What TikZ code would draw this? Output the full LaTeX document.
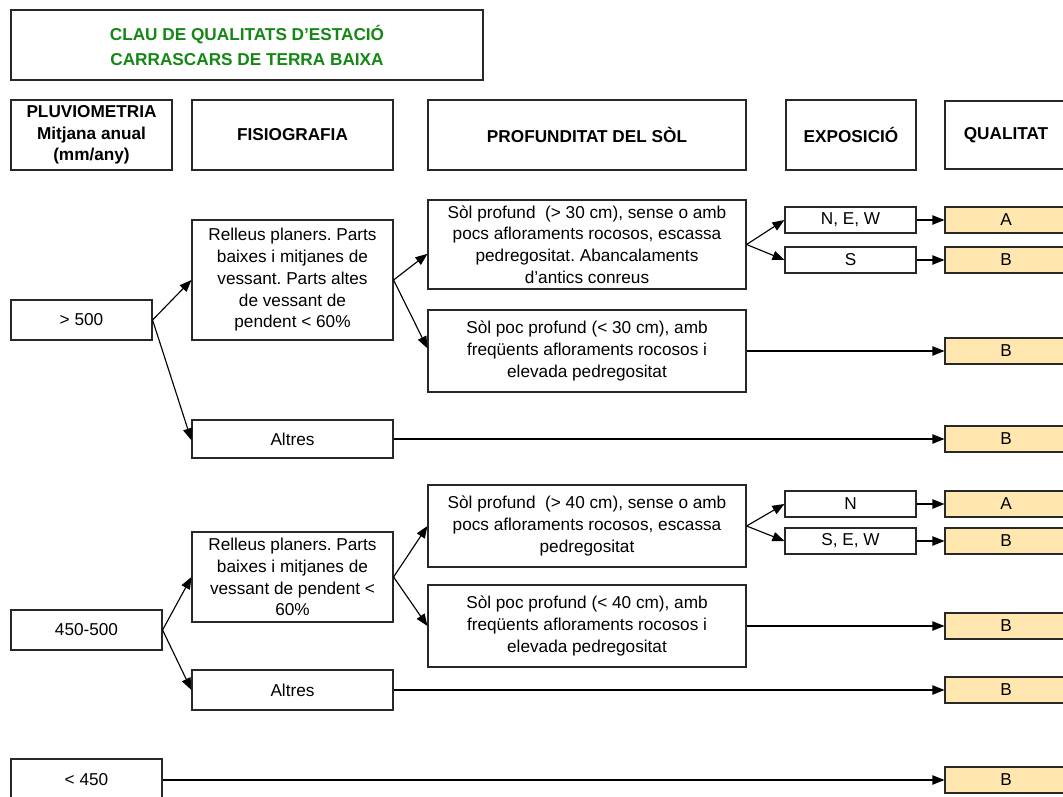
\documentclass[tikz,border=0pt]{standalone}
\usepackage{fontspec}
\setmainfont{Liberation Sans}
\usetikzlibrary{arrows.meta}
\definecolor{titlegreen}{RGB}{20,135,20}
\definecolor{qfill}{RGB}{255,231,175}
\definecolor{bord}{RGB}{40,40,40}
\frenchspacing
\begin{document}
\begin{tikzpicture}[x=0.75pt,y=-0.75pt,
  box/.style={draw=bord, line width=0.85pt, inner sep=0pt, align=center, fill=white,
    font=\fontsize{12.9}{16.3}\selectfont},
  hbox/.style={box, font=\fontsize{12.9}{16}\selectfont\bfseries},
  qbox/.style={box, fill=qfill},
  wh/.style 2 args={minimum width=#1*0.75pt, minimum height=#2*0.75pt},
  arr/.style={-{Triangle[length=9pt,width=7pt]}, line width=0.85pt, black}
  ]
\useasboundingbox (0,0) rectangle (1063,796);
\clip (0,0) rectangle (1063,796);

% title
\node[box, wh={472}{70}, font=\fontsize{12.9}{18.7}\selectfont\bfseries, text=titlegreen] (title) at (247,45)
  {CLAU DE QUALITATS D’ESTACIÓ\\CARRASCARS DE TERRA BAIXA};

% headers
\node[hbox, wh={161}{70}] (h1) at (91.5,135) {PLUVIOMETRIA\\Mitjana anual\\(mm/any)};
\node[hbox, wh={201}{70}] (h2) at (292.5,135) {FISIOGRAFIA};
\node[hbox, wh={318}{70}] (h3) at (587,135) {PROFUNDITAT DEL SÒL};
\node[hbox, wh={130}{70}] (h4) at (851,135) {EXPOSICIÓ};
\node[hbox, wh={122}{68}] (h5) at (1006,135) {QUALITAT};

% row 1
\node[box, wh={141}{40}] (p1) at (81.5,320) {> 500};
\node[box, wh={201}{120}] (f1) at (292.5,280) {Relleus planers. Parts\\baixes i mitjanes de\\vessant. Parts altes\\de vessant de\\pendent < 60\%};
\node[box, wh={201}{38}] (f2) at (292.5,439) {Altres};
\node[box, wh={318}{89}] (s1) at (587,244.5) {Sòl profund\ \ (> 30 cm), sense o amb\\pocs afloraments rocosos, escassa\\pedregositat. Abancalaments\\d’antics conreus};
\node[box, wh={318}{82}] (s2) at (587,351) {Sòl poc profund (< 30 cm), amb\\freqüents afloraments rocosos i\\elevada pedregositat};
\node[box, wh={131}{26}] (e1) at (850.5,220) {N, E, W};
\node[box, wh={131}{26}] (e2) at (850.5,260) {S};
\node[qbox, wh={122}{26}] (q1) at (1006,220) {A};
\node[qbox, wh={122}{26}] (q2) at (1006,260) {B};
\node[qbox, wh={122}{26}] (q3) at (1006,351) {B};
\node[qbox, wh={122}{26}] (q4) at (1006,439) {B};

% row 2
\node[box, wh={151}{40}] (p2) at (86.5,630) {450-500};
\node[box, wh={201}{90}] (f3) at (292.5,577) {Relleus planers. Parts\\baixes i mitjanes de\\vessant de pendent <\\60\%};
\node[box, wh={201}{40}] (f4) at (292.5,690) {Altres};
\node[box, wh={318}{82}] (s3) at (587,526) {Sòl profund\ \ (> 40 cm), sense o amb\\pocs afloraments rocosos, escassa\\pedregositat};
\node[box, wh={318}{82}] (s4) at (587,626) {Sòl poc profund (< 40 cm), amb\\freqüents afloraments rocosos i\\elevada pedregositat};
\node[box, wh={131}{26}] (e3) at (850.5,504) {N};
\node[box, wh={131}{26}] (e4) at (850.5,541) {S, E, W};
\node[qbox, wh={122}{26}] (q5) at (1006,504) {A};
\node[qbox, wh={122}{26}] (q6) at (1006,541) {B};
\node[qbox, wh={122}{26}] (q7) at (1006,626) {B};
\node[qbox, wh={122}{26}] (q8) at (1006,690) {B};

% row 3
\node[box, wh={151}{42}] (p3) at (86.5,780) {< 450};
\node[qbox, wh={122}{26}] (q9) at (1006,780) {B};

% connectors row 1
\draw[arr] (p1.east) -- (f1.west);
\draw[arr] (p1.east) -- ([yshift=-1pt]f2.west);
\draw[arr] (f1.east) -- ([yshift=-7pt]s1.west);
\draw[arr] (f1.east) -- ([yshift=2pt]s2.west);
\draw[arr] (s1.east) -- (e1.west);
\draw[arr] (s1.east) -- (e2.west);
\draw[arr] (e1.east) -- (q1.west);
\draw[arr] (e2.east) -- (q2.west);
\draw[arr] (s2.east) -- (q3.west);
\draw[arr] (f2.east) -- (q4.west);

% connectors row 2
\draw[arr] (p2.east) -- (f3.west);
\draw[arr] (p2.east) -- (f4.west);
\draw[arr] (f3.east) -- (s3.west);
\draw[arr] (f3.east) -- (s4.west);
\draw[arr] (s3.east) -- (e3.west);
\draw[arr] (s3.east) -- (e4.west);
\draw[arr] (e3.east) -- (q5.west);
\draw[arr] (e4.east) -- (q6.west);
\draw[arr] (s4.east) -- (q7.west);
\draw[arr] (f4.east) -- (q8.west);

% row 3
\draw[arr] (p3.east) -- (q9.west);
\end{tikzpicture}
\end{document}
